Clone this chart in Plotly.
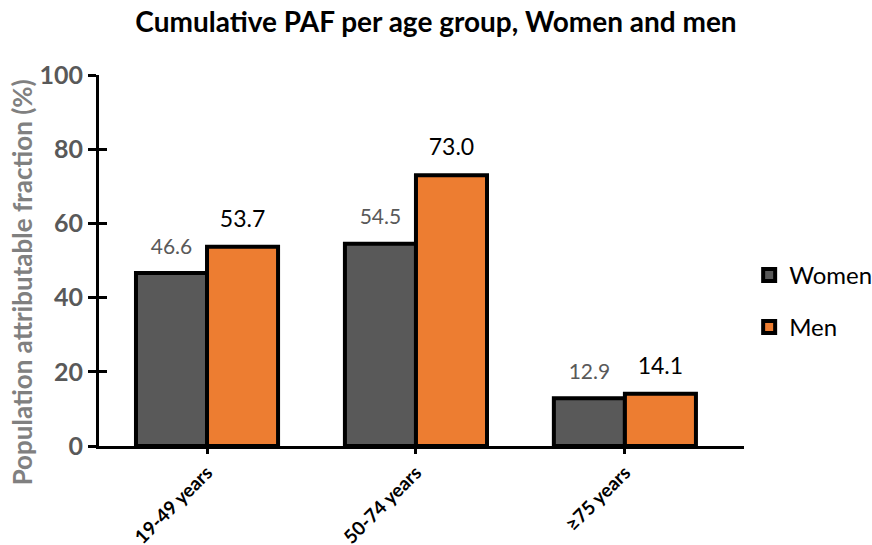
import plotly.graph_objects as go

categories = ["19-49 years", "50-74 years", "≥75 years"]
women = [46.6, 54.5, 12.9]
men = [53.7, 73.0, 14.1]
y_ticks = [0, 20, 40, 60, 80, 100]

font = "Lato, 'Open Sans', sans-serif"

fig = go.Figure()
fig.add_trace(go.Bar(
    x=categories, y=women, name="Women",
    marker=dict(color="#595959", line=dict(color="black", width=4)),
    offsetgroup="w", legendgroup="w",
))
fig.add_trace(go.Bar(
    x=categories, y=men, name="Men",
    marker=dict(color="#ED7D31", line=dict(color="black", width=4)),
    offsetgroup="m", legendgroup="m",
))
# value labels (invisible markers give the gap above bars)
fig.add_trace(go.Scatter(
    x=categories, y=women, mode="markers+text", offsetgroup="w",
    text=[f"{v:.1f}" for v in women], textposition="top center",
    textfont=dict(family=font, size=21, color="#595959"),
    marker=dict(size=21, opacity=0), showlegend=False, hoverinfo="skip", cliponaxis=False,
))
fig.add_trace(go.Scatter(
    x=categories, y=men, mode="markers+text", offsetgroup="m",
    text=[f"{v:.1f}" for v in men], textposition="top center",
    textfont=dict(family=font, size=23, color="black"),
    marker=dict(size=21, opacity=0), showlegend=False, hoverinfo="skip", cliponaxis=False,
))
# overlay axis for inner half of crossing ticks
fig.add_trace(go.Scatter(x=categories, y=[None]*3, yaxis="y2", showlegend=False, hoverinfo="skip"))

fig.update_layout(
    width=872, height=545,
    paper_bgcolor="white", plot_bgcolor="white",
    margin=dict(l=99, r=128, t=75, b=99, autoexpand=False),
    barmode="group", bargap=0.32, bargroupgap=0,
    scattermode="group", scattergap=0.32,
    title=dict(text="<b>Cumulative PAF per age group, Women and men</b>",
               x=0.5, xanchor="center", xref="container", y=0.96, yanchor="middle",
               font=dict(family=font, size=28, color="black")),
    font=dict(family=font),
    xaxis=dict(range=[-0.517, 2.57], showline=True, linecolor="black", linewidth=3,
               ticks="outside", ticklen=5, tickwidth=3, tickcolor="black",
               tickangle=-45, tickfont=dict(family=font, size=19, color="black", weight="bold"),
               showgrid=False, zeroline=False, automargin=False),
    yaxis=dict(range=[0, 100], tickvals=y_ticks, showline=True, linecolor="black", linewidth=3,
               ticks="outside", ticklen=8, tickwidth=3, tickcolor="black",
               tickfont=dict(family=font, size=25, color="#595959", weight="bold"),
               showgrid=False, zeroline=False, automargin=False),
    yaxis2=dict(range=[0, 100], tickvals=y_ticks, overlaying="y", side="left",
                ticks="inside", ticklen=8, tickwidth=3, tickcolor="black",
                showticklabels=False, showline=False, showgrid=False, zeroline=False,
                automargin=False),
    legend=dict(x=1.008, xanchor="left", y=0.39, yanchor="middle",
                traceorder="grouped", tracegroupgap=18,
                font=dict(family=font, size=24, color="black"),
                itemwidth=30),
    showlegend=True,
    annotations=[dict(text="<b>Population attributable fraction (%)</b>", textangle=-90,
                      xref="paper", yref="paper", x=-0.12, y=0.44,
                      xanchor="center", yanchor="middle", showarrow=False,
                      font=dict(family=font, size=26, color="#808080"))],
)

fig.write_html("out.html", post_script="document.body.style.margin='0';",
               config={"displayModeBar": False})
